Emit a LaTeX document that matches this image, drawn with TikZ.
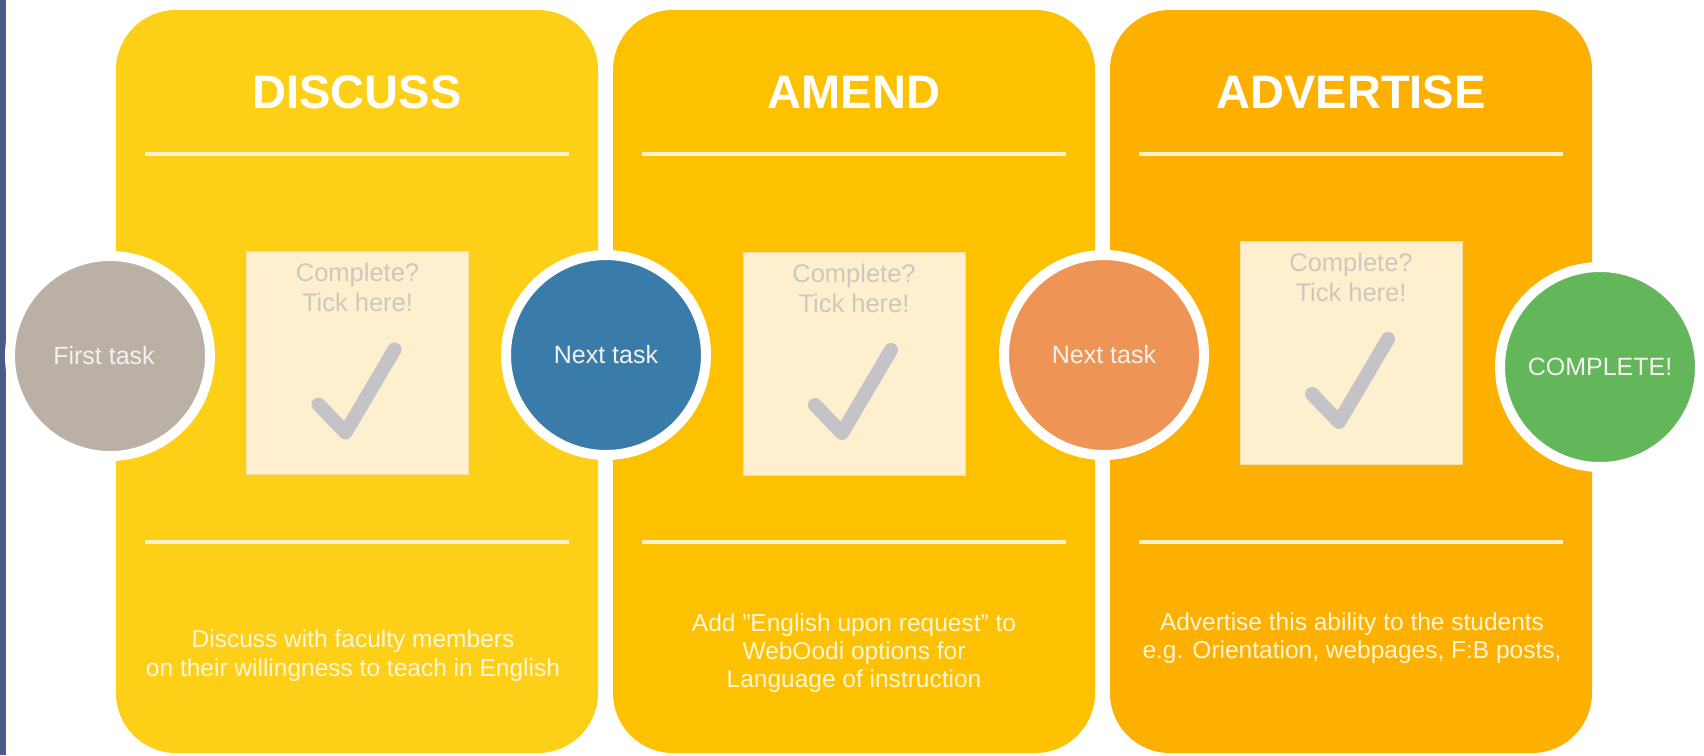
\documentclass[tikz,border=0pt]{standalone}
\usepackage{fontspec}
\setmainfont{Liberation Sans}
\definecolor{panelA}{HTML}{FDD017}
\definecolor{panelB}{HTML}{FEC100}
\definecolor{panelC}{HTML}{FDB000}
\definecolor{linecol}{HTML}{FFF3CF}
\definecolor{boxfill}{HTML}{FEF0CE}
\definecolor{boxline}{HTML}{F3DFA8}
\definecolor{ctick}{HTML}{CDC8BD}
\definecolor{checkcol}{HTML}{C4C4C8}
\definecolor{tasktext}{HTML}{F2F2EE}
\definecolor{desccol}{HTML}{FFF6DA}
\definecolor{stripcol}{HTML}{4B5B8B}
\definecolor{cgray}{HTML}{BAB0A6}
\definecolor{cblue}{HTML}{3A7CA9}
\definecolor{corange}{HTML}{EE9454}
\definecolor{cgreen}{HTML}{63B65A}
\begin{document}
\begin{tikzpicture}[x=1pt,y=-1pt,
  panel/.style={rounded corners=60pt, minimum width=482pt, minimum height=743pt, inner sep=0pt, draw=none},
  title/.style={anchor=base, text=white, font=\fontsize{47}{56}\selectfont\bfseries, inner sep=0pt},
  divider/.style={draw=linecol, line width=4pt},
  tickbox/.style={fill=boxfill, draw=boxline, line width=1pt, minimum width=222pt, minimum height=223pt, inner sep=0pt},
  boxtxt/.style={anchor=base, text=ctick, font=\fontsize{25.5}{30}\selectfont, inner sep=0pt},
  check/.style={draw=checkcol, line width=14pt, line cap=round, line join=round},
  task/.style={circle, minimum size=200pt, inner sep=0pt, draw=white, line width=10pt, text=tasktext, font=\fontsize{25}{30}\selectfont},
  desc/.style={anchor=base, text=desccol, font=\fontsize{24.5}{29}\selectfont, inner sep=0pt},
]
\useasboundingbox[fill=white] (0,0) rectangle (1704,755);
\fill[stripcol] (0,0) rectangle (6,755);

% panels
\node[panel, fill=panelA] (p1) at (357,381.5) {};
\node[panel, fill=panelB] (p2) at (854,381.5) {};
\node[panel, fill=panelC] (p3) at (1351,381.5) {};

% titles
\node[title] (t1) at (357,108) {DISCUSS};
\node[title] (t2) at (854,108) {AMEND};
\node[title] (t3) at (1351,108) {ADVERTISE};

% dividers
\draw[divider] (145,154) -- (569,154);
\draw[divider] (642,154) -- (1066,154);
\draw[divider] (1139,154) -- (1563,154);
\draw[divider] (145,542) -- (569,542);
\draw[divider] (642,542) -- (1066,542);
\draw[divider] (1139,542) -- (1563,542);

% tick boxes
\node[tickbox] (b1) at (357.5,363) {};
\node[tickbox] (b2) at (854,363.5) {};
\node[tickbox] (b3) at (1351,352.5) {};

\node[boxtxt] (b1a) at (357.5,281) {Complete?};
\node[boxtxt] (b1b) at (357.5,311) {Tick here!};
\node[boxtxt] (b2a) at (854,282) {Complete?};
\node[boxtxt] (b2b) at (854,312) {Tick here!};
\node[boxtxt] (b3a) at (1351,271) {Complete?};
\node[boxtxt] (b3b) at (1351,301) {Tick here!};

\draw[check, shift={(b1.center)}] (-39,41.5) -- (-12,69.5) -- (37,-13.5);
\draw[check, shift={(b2.center)}] (-39,41.5) -- (-12,69.5) -- (37,-13.5);
\draw[check, shift={(b3.center)}] (-39,41.5) -- (-12,69.5) -- (37,-13.5);

% descriptions
\node[desc] (d1a) at (353,647) {Discuss with faculty members};
\node[desc] (d1b) at (353,676) {on their willingness to teach in English};
\node[desc] (d2a) at (854,631) {Add \char34English upon request\char34{} to};
\node[desc] (d2b) at (854,659) {WebOodi options for};
\node[desc] (d2c) at (854,687) {Language of instruction};
\node[desc] (d3a) at (1352,630) {Advertise this ability to the students};
\node[desc] (d3b) at (1352,658) {e.g. Orientation, webpages, F:B posts,};

% task circles
\node[task, fill=cgray] (c1) at (110,356) {\hspace*{-12pt}First task};
\node[task, fill=cblue] (c2) at (606,355) {Next task};
\node[task, fill=corange] (c3) at (1104,355) {Next task};
\node[task, fill=cgreen] (c4) at (1600,367) {COMPLETE!};
\end{tikzpicture}
\end{document}
